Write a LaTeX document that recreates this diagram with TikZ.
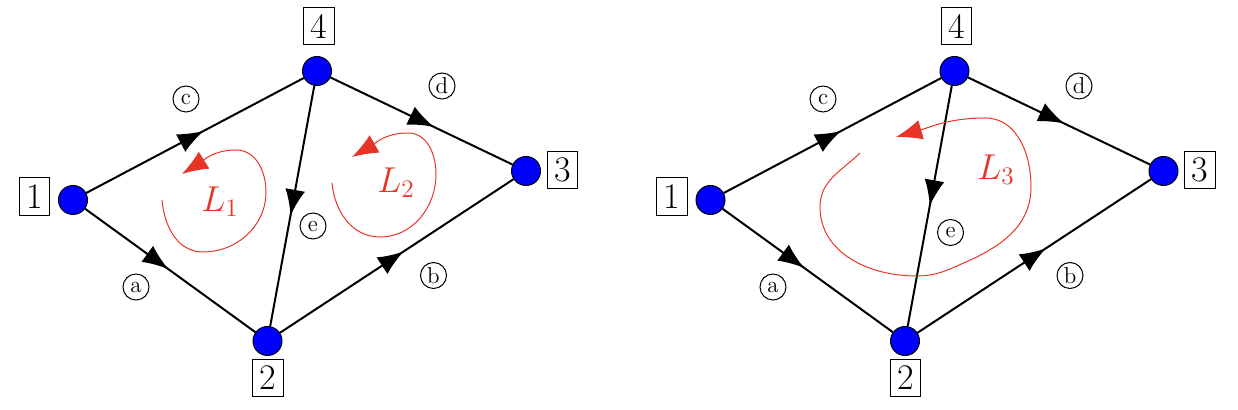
\RequirePackage{fix-cm}
\documentclass[tikz,border=0pt]{standalone}
\usetikzlibrary{arrows.meta,decorations.markings}
\definecolor{loopred}{RGB}{232,52,38}
\begin{document}
\begin{tikzpicture}[x=0.5pt,y=-0.5pt,
  vert/.style={circle,draw=black,line width=0.5pt,fill=blue,minimum size=14.5pt,inner sep=0pt},
  numbox/.style={draw,line width=0.5pt,inner sep=3.4pt,font=\fontsize{18}{18}\selectfont},
  elab/.style={circle,draw,line width=0.5pt,minimum size=13pt,inner sep=0pt,font=\fontsize{11.5}{12}\selectfont},
  looplab/.style={text=loopred,font=\fontsize{18}{18}\selectfont},
  branch/.style={line width=1pt,postaction={decorate},decoration={markings,mark=at position #1 with {\arrow{Latex[length=13pt,width=10pt]}}}},
  loopline/.style={draw=loopred,line width=0.5pt,-{Latex[length=13pt,width=10pt]}},
]
\useasboundingbox (0,0) rectangle (1238,410);

% ---------- left graph ----------
\node[vert] (n1) at (73,200) {};
\node[vert] (n2) at (267.5,341) {};
\node[vert] (n3) at (526,171) {};
\node[vert] (n4) at (317,71) {};
\node[numbox] (b1) at (34.5,196.5) {1};
\node[numbox] (b2) at (268,378) {2};
\node[numbox] (b3) at (562.5,170) {3};
\node[numbox] (b4) at (319,26) {4};
\node[elab] (la) at (136,287) {a};
\node[elab] (lb) at (433.5,275.5) {b};
\node[elab] (lc) at (186,99) {c};
\node[elab] (ld) at (442,86) {d};
\node[elab] (le) at (313,226) {e};
\node[looplab] (l1) at (220,202) {$L_1$};
\node[looplab] (l2) at (396,183) {$L_2$};

\draw[branch=0.49] (n1) -- (n2);
\draw[branch=0.53] (n2) -- (n3);
\draw[branch=0.54] (n1) -- (n4);
\draw[branch=0.57] (n4) -- (n3);
\draw[branch=0.54] (n4) -- (n2);

\draw[loopline] (162,200) to[out=-85,in=180] (203,252) to[out=0,in=-90] (266,192) to[out=90,in=0] (236,150) to[out=180,in=32] (182,174);
\draw[loopline] (332,183) to[out=-85,in=180] (380,237) to[out=0,in=-90] (436,174) to[out=90,in=0] (408,133) to[out=180,in=30] (352,157);

% ---------- right graph ----------
\node[vert] (m1) at (710.5,200) {};
\node[vert] (m2) at (905,341) {};
\node[vert] (m3) at (1163.5,171) {};
\node[vert] (m4) at (954.5,71) {};
\node[numbox] (c1) at (672,196.5) {1};
\node[numbox] (c2) at (905.5,378) {2};
\node[numbox] (c3) at (1200,170) {3};
\node[numbox] (c4) at (956.5,26) {4};
\node[elab] (ma) at (773,287) {a};
\node[elab] (mb) at (1070,275.5) {b};
\node[elab] (mc) at (823,99) {c};
\node[elab] (md) at (1079,86) {d};
\node[elab] (me) at (950.5,232.5) {e};
\node[looplab] (l3) at (996,170) {$L_3$};

\draw[branch=0.48] (m1) -- (m2);
\draw[branch=0.55] (m2) -- (m3);
\draw[branch=0.54] (m1) -- (m4);
\draw[branch=0.53] (m4) -- (m3);
\draw[branch=0.50] (m4) -- (m2);

\draw[loopline] (860,153) to[out=-136,in=90] (820,207) to[out=-90,in=180] (916,276) to[out=0,in=-156] (966,262) to[out=24,in=-90] (1031,187) to[out=90,in=0] (985,118) to[out=180,in=16] (896,137);
\end{tikzpicture}
\end{document}
